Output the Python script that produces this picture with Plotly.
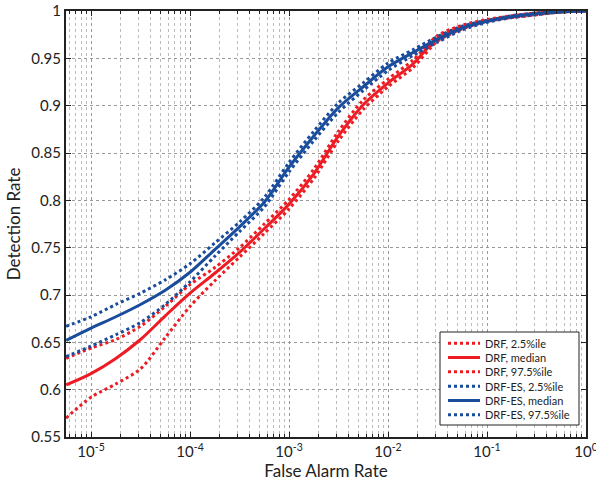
import plotly.graph_objects as go

# False alarm rate (x) sample points
far = [5.6e-6, 1e-5, 1.78e-5, 3.16e-5, 5.62e-5, 1e-4, 1.78e-4, 3.16e-4, 5.62e-4,
       1e-3, 1.78e-3, 3.16e-3, 5.62e-3, 1e-2, 1.78e-2, 3.16e-2, 5.62e-2,
       0.1, 0.178, 0.316, 0.562, 1.0]

drf_lo = [0.570, 0.592, 0.606, 0.622, 0.655, 0.688, 0.715, 0.740, 0.765, 0.791, 0.823,
          0.863, 0.896, 0.920, 0.940, 0.968, 0.981, 0.989, 0.993, 0.996, 0.999, 1.0]
drf_med = [0.605, 0.617, 0.633, 0.653, 0.678, 0.702, 0.723, 0.745, 0.770, 0.796, 0.828,
           0.868, 0.901, 0.924, 0.944, 0.971, 0.983, 0.990, 0.994, 0.997, 0.999, 1.0]
drf_hi = [0.633, 0.644, 0.653, 0.667, 0.688, 0.711, 0.729, 0.750, 0.775, 0.801, 0.833,
          0.873, 0.906, 0.928, 0.948, 0.974, 0.985, 0.991, 0.995, 0.998, 1.0, 1.0]

es_lo = [0.635, 0.646, 0.658, 0.671, 0.690, 0.714, 0.741, 0.767, 0.793, 0.830, 0.863,
         0.893, 0.916, 0.937, 0.953, 0.967, 0.980, 0.988, 0.993, 0.996, 0.999, 1.0]
es_med = [0.652, 0.665, 0.677, 0.690, 0.705, 0.724, 0.748, 0.772, 0.798, 0.835, 0.868,
          0.898, 0.920, 0.941, 0.956, 0.970, 0.982, 0.989, 0.994, 0.997, 0.999, 1.0]
es_hi = [0.667, 0.677, 0.690, 0.702, 0.716, 0.733, 0.755, 0.777, 0.803, 0.840, 0.873,
         0.903, 0.924, 0.945, 0.959, 0.973, 0.984, 0.990, 0.995, 0.998, 1.0, 1.0]

x_tickvals = [1e-5, 1e-4, 1e-3, 1e-2, 1e-1, 1]
x_ticktext = ["10<sup>-5</sup>", "10<sup>-4</sup>", "10<sup>-3</sup>",
              "10<sup>-2</sup>", "10<sup>-1</sup>", "10<sup>0</sup>"]
y_tickvals = [0.55, 0.6, 0.65, 0.7, 0.75, 0.8, 0.85, 0.9, 0.95, 1.0]
y_ticktext = ["0.55", "0.6", "0.65", "0.7", "0.75", "0.8", "0.85", "0.9", "0.95", "1"]

RED = "#ED1C24"
BLUE = "#1A4C9C"
FONT = "Lato"
INK = "#222"

series = [
    ("DRF, 2.5%ile", drf_lo, RED, "dot"),
    ("DRF, median", drf_med, RED, "solid"),
    ("DRF, 97.5%ile", drf_hi, RED, "dot"),
    ("DRF-ES, 2.5%ile", es_lo, BLUE, "dot"),
    ("DRF-ES, median", es_med, BLUE, "solid"),
    ("DRF-ES, 97.5%ile", es_hi, BLUE, "dot"),
]

W, H = 596, 483
ML, MR, MT, MB = 66, 10, 11, 46
PW, PH = W - ML - MR, H - MT - MB


def px2paper(px, py):
    return (px - ML) / PW, (H - MB - py) / PH


fig = go.Figure()
for name, ys, col, dash in series:
    fig.add_trace(go.Scatter(
        x=far, y=ys, name=name, mode="lines", showlegend=False,
        line=dict(color=col, width=3, dash=dash, shape="spline", smoothing=0.8),
    ))

# Manual legend (box, line samples, labels)
LEG_L, LEG_R, LEG_T, LEG_B = 440, 579, 332, 425
x0, y0 = px2paper(LEG_L, LEG_B)
x1, y1 = px2paper(LEG_R, LEG_T)
shapes = [dict(type="rect", xref="paper", yref="paper", x0=x0, y0=y0, x1=x1, y1=y1,
               line=dict(color=INK, width=1), fillcolor="white", layer="above")]
annotations = []
row_h = (LEG_B - LEG_T - 7) / len(series)
for i, (name, ys, col, dash) in enumerate(series):
    cy = LEG_T + 4 + row_h * (i + 0.5)
    sx0, sy = px2paper(448, cy)
    sx1, _ = px2paper(480, cy)
    shapes.append(dict(type="line", xref="paper", yref="paper", x0=sx0, x1=sx1, y0=sy, y1=sy,
                       line=dict(color=col, width=3, dash=dash), layer="above"))
    tx, _ = px2paper(483, cy)
    annotations.append(dict(xref="paper", yref="paper", x=tx, y=sy, text=name,
                            showarrow=False, xanchor="left", yanchor="middle",
                            font=dict(family=FONT, size=11, color=INK)))

axis_common = dict(
    showline=True, linecolor=INK, linewidth=2, mirror="ticks",
    ticks="inside", tickcolor=INK, ticklen=5,
    showgrid=True, gridcolor="#999", griddash="dot", gridwidth=1,
    zeroline=False, ticklabeloverflow="allow",
    tickfont=dict(family=FONT, size=15, color=INK),
)

fig.update_xaxes(
    type="log", range=[-5.253, 0],
    tickvals=x_tickvals, ticktext=x_ticktext,
    minor=dict(dtick="D1", showgrid=True, gridcolor="#bbb", griddash="dot",
               ticks="inside", ticklen=3, tickcolor=INK),
    title=dict(text="False Alarm Rate", font=dict(family=FONT, size=17, color=INK), standoff=4),
    **axis_common,
)
fig.update_yaxes(
    range=[0.55, 1.0],
    tickvals=y_tickvals, ticktext=y_ticktext,
    title=dict(text="Detection Rate", font=dict(family=FONT, size=17, color=INK), standoff=6),
    **axis_common,
)

fig.update_layout(
    width=W, height=H,
    margin=dict(l=ML, r=MR, t=MT, b=MB, autoexpand=False),
    plot_bgcolor="white", paper_bgcolor="white",
    font=dict(family=FONT, color=INK),
    shapes=shapes, annotations=annotations,
    showlegend=False,
)

fig.write_html("out.html")
